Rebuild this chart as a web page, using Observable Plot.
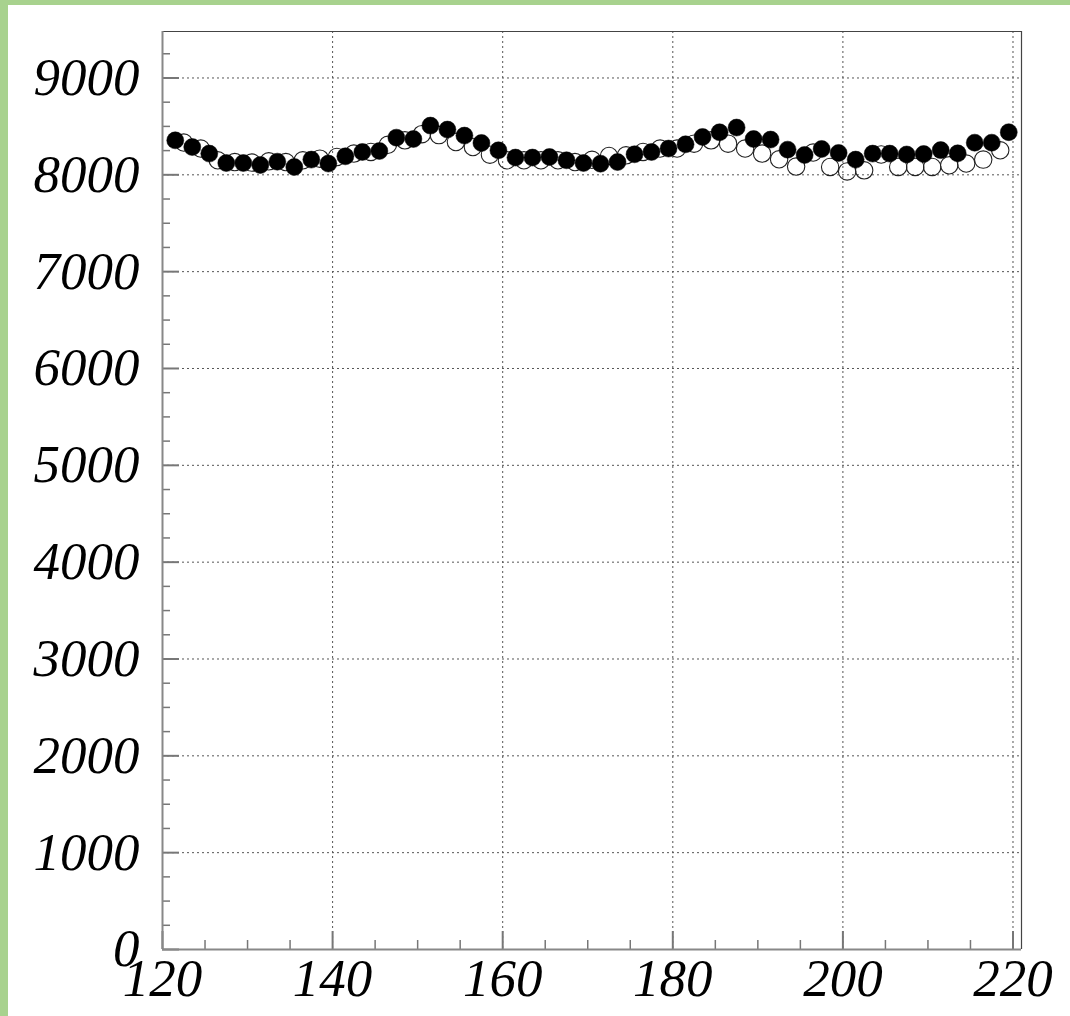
<!DOCTYPE html>
<html><head><meta charset="utf-8">
<script src="https://cdn.jsdelivr.net/npm/d3@7"></script>
<script src="https://cdn.jsdelivr.net/npm/@observablehq/plot@0.6"></script>
<style>
html,body{margin:0;padding:0;background:#fff;}
#frame{width:1062px;height:1011px;border-left:8px solid #a8d28e;border-top:5px solid #a8d28e;background:#fff;}
#frame svg{display:block;}
</style></head><body><div id="frame"></div>
<script>
const filledX = [121.5,123.5,125.5,127.5,129.5,131.5,133.5,135.5,137.5,139.5,
  141.5,143.5,145.5,147.5,149.5,151.5,153.5,155.5,157.5,159.5,
  161.5,163.5,165.5,167.5,169.5,171.5,173.5,175.5,177.5,179.5,
  181.5,183.5,185.5,187.5,189.5,191.5,193.5,195.5,197.5,199.5,
  201.5,203.5,205.5,207.5,209.5,211.5,213.5,215.5,217.5,219.5];
const filledY = [8356,8287,8219,8122,8122,8101,8136,8081,8157,8116,
  8191,8236,8246,8384,8370,8508,8467,8405,8329,8253,
  8178,8178,8184,8150,8122,8115,8132,8212,8236,8271,
  8315,8391,8439,8488,8370,8364,8260,8205,8267,8226,
  8157,8219,8219,8210,8215,8255,8222,8332,8332,8440];
const openX = [122.5,124.5,126.5,128.5,130.5,132.5,134.5,136.5,138.5,140.5,
  142.5,144.5,146.5,148.5,150.5,152.5,154.5,156.5,158.5,160.5,
  162.5,164.5,166.5,168.5,170.5,172.5,174.5,176.5,178.5,180.5,
  182.5,184.5,186.5,188.5,190.5,192.5,194.5,196.5,198.5,200.5,
  202.5,204.5,206.5,208.5,210.5,212.5,214.5,216.5,218.5];
const openY = [8333,8271,8150,8132,8126,8139,8132,8150,8167,8184,
  8219,8236,8310,8356,8420,8410,8339,8287,8208,8150,
  8150,8150,8150,8132,8155,8195,8201,8236,8271,8271,
  8322,8356,8322,8271,8219,8160,8085,8230,8081,8035,
  8046,8210,8081,8081,8081,8098,8116,8157,8253];
const xTicks = [120,140,160,180,200,220];
const yTicks = [0,1000,2000,3000,4000,5000,6000,7000,8000,9000];
const xDomain = [120,221];
const yDomain = [0,9480];

const W = 1062, H = 1011, mL = 154, mR = 49, mT = 26, mB = 67;
const fw = W - mL - mR, fh = H - mT - mB;
const xMinor = d3.range(125, 221, 5).filter(v => !xTicks.includes(v));
const yMinor = d3.range(250, 9480, 250).filter(v => !yTicks.includes(v));
const font = "'Liberation Serif','Times New Roman',serif";
const grid = {stroke:"#555", strokeWidth:1, strokeDasharray:"2,3", strokeOpacity:1};
const fmt = d => String(d);

const chart = Plot.plot({
  width: W, height: H,
  marginLeft: mL, marginRight: mR, marginTop: mT, marginBottom: mB,
  style: {background:"#fff", overflow:"visible"},
  x: {domain: xDomain, ticks: xTicks},
  y: {domain: yDomain, ticks: yTicks},
  marks: [
    Plot.ruleX(xTicks.slice(1), grid),
    Plot.ruleY(yTicks.slice(1), grid),
    Plot.tickY(yTicks, {stroke:"#777", strokeWidth:2, insetRight: fw - 17}),
    Plot.tickY(yMinor, {stroke:"#777", strokeWidth:1.5, insetRight: fw - 8}),
    Plot.tickX(xTicks, {stroke:"#777", strokeWidth:2, insetTop: fh - 18}),
    Plot.tickX(xMinor, {stroke:"#777", strokeWidth:1.5, insetTop: fh - 9}),
    Plot.ruleY([yDomain[1]], {stroke:"#444", strokeWidth:1.2}),
    Plot.ruleX([xDomain[1]], {stroke:"#444", strokeWidth:1.2}),
    Plot.ruleX([xDomain[0]], {stroke:"#888", strokeWidth:2}),
    Plot.ruleY([yDomain[0]], {stroke:"#888", strokeWidth:2}),
    Plot.dot(openX.map((x,i)=>({x, y: openY[i]})), {x:"x", y:"y", r:8.7, fill:"none", stroke:"#222", strokeWidth:1.1}),
    Plot.dot(filledX.map((x,i)=>({x, y: filledY[i]})), {x:"x", y:"y", r:8.5, fill:"#000", stroke:"#000", strokeWidth:0.5}),
    Plot.axisY(yTicks, {tickSize:0, tickPadding:23, tickFormat:fmt, fontSize:53, fontFamily:font, fontStyle:"italic", fill:"#000", label:null}),
    Plot.axisX(xTicks, {tickSize:0, tickPadding:9, tickFormat:fmt, fontSize:53, fontFamily:font, fontStyle:"italic", fill:"#000", label:null})
  ]
});
document.getElementById("frame").appendChild(chart);
</script></body></html>
